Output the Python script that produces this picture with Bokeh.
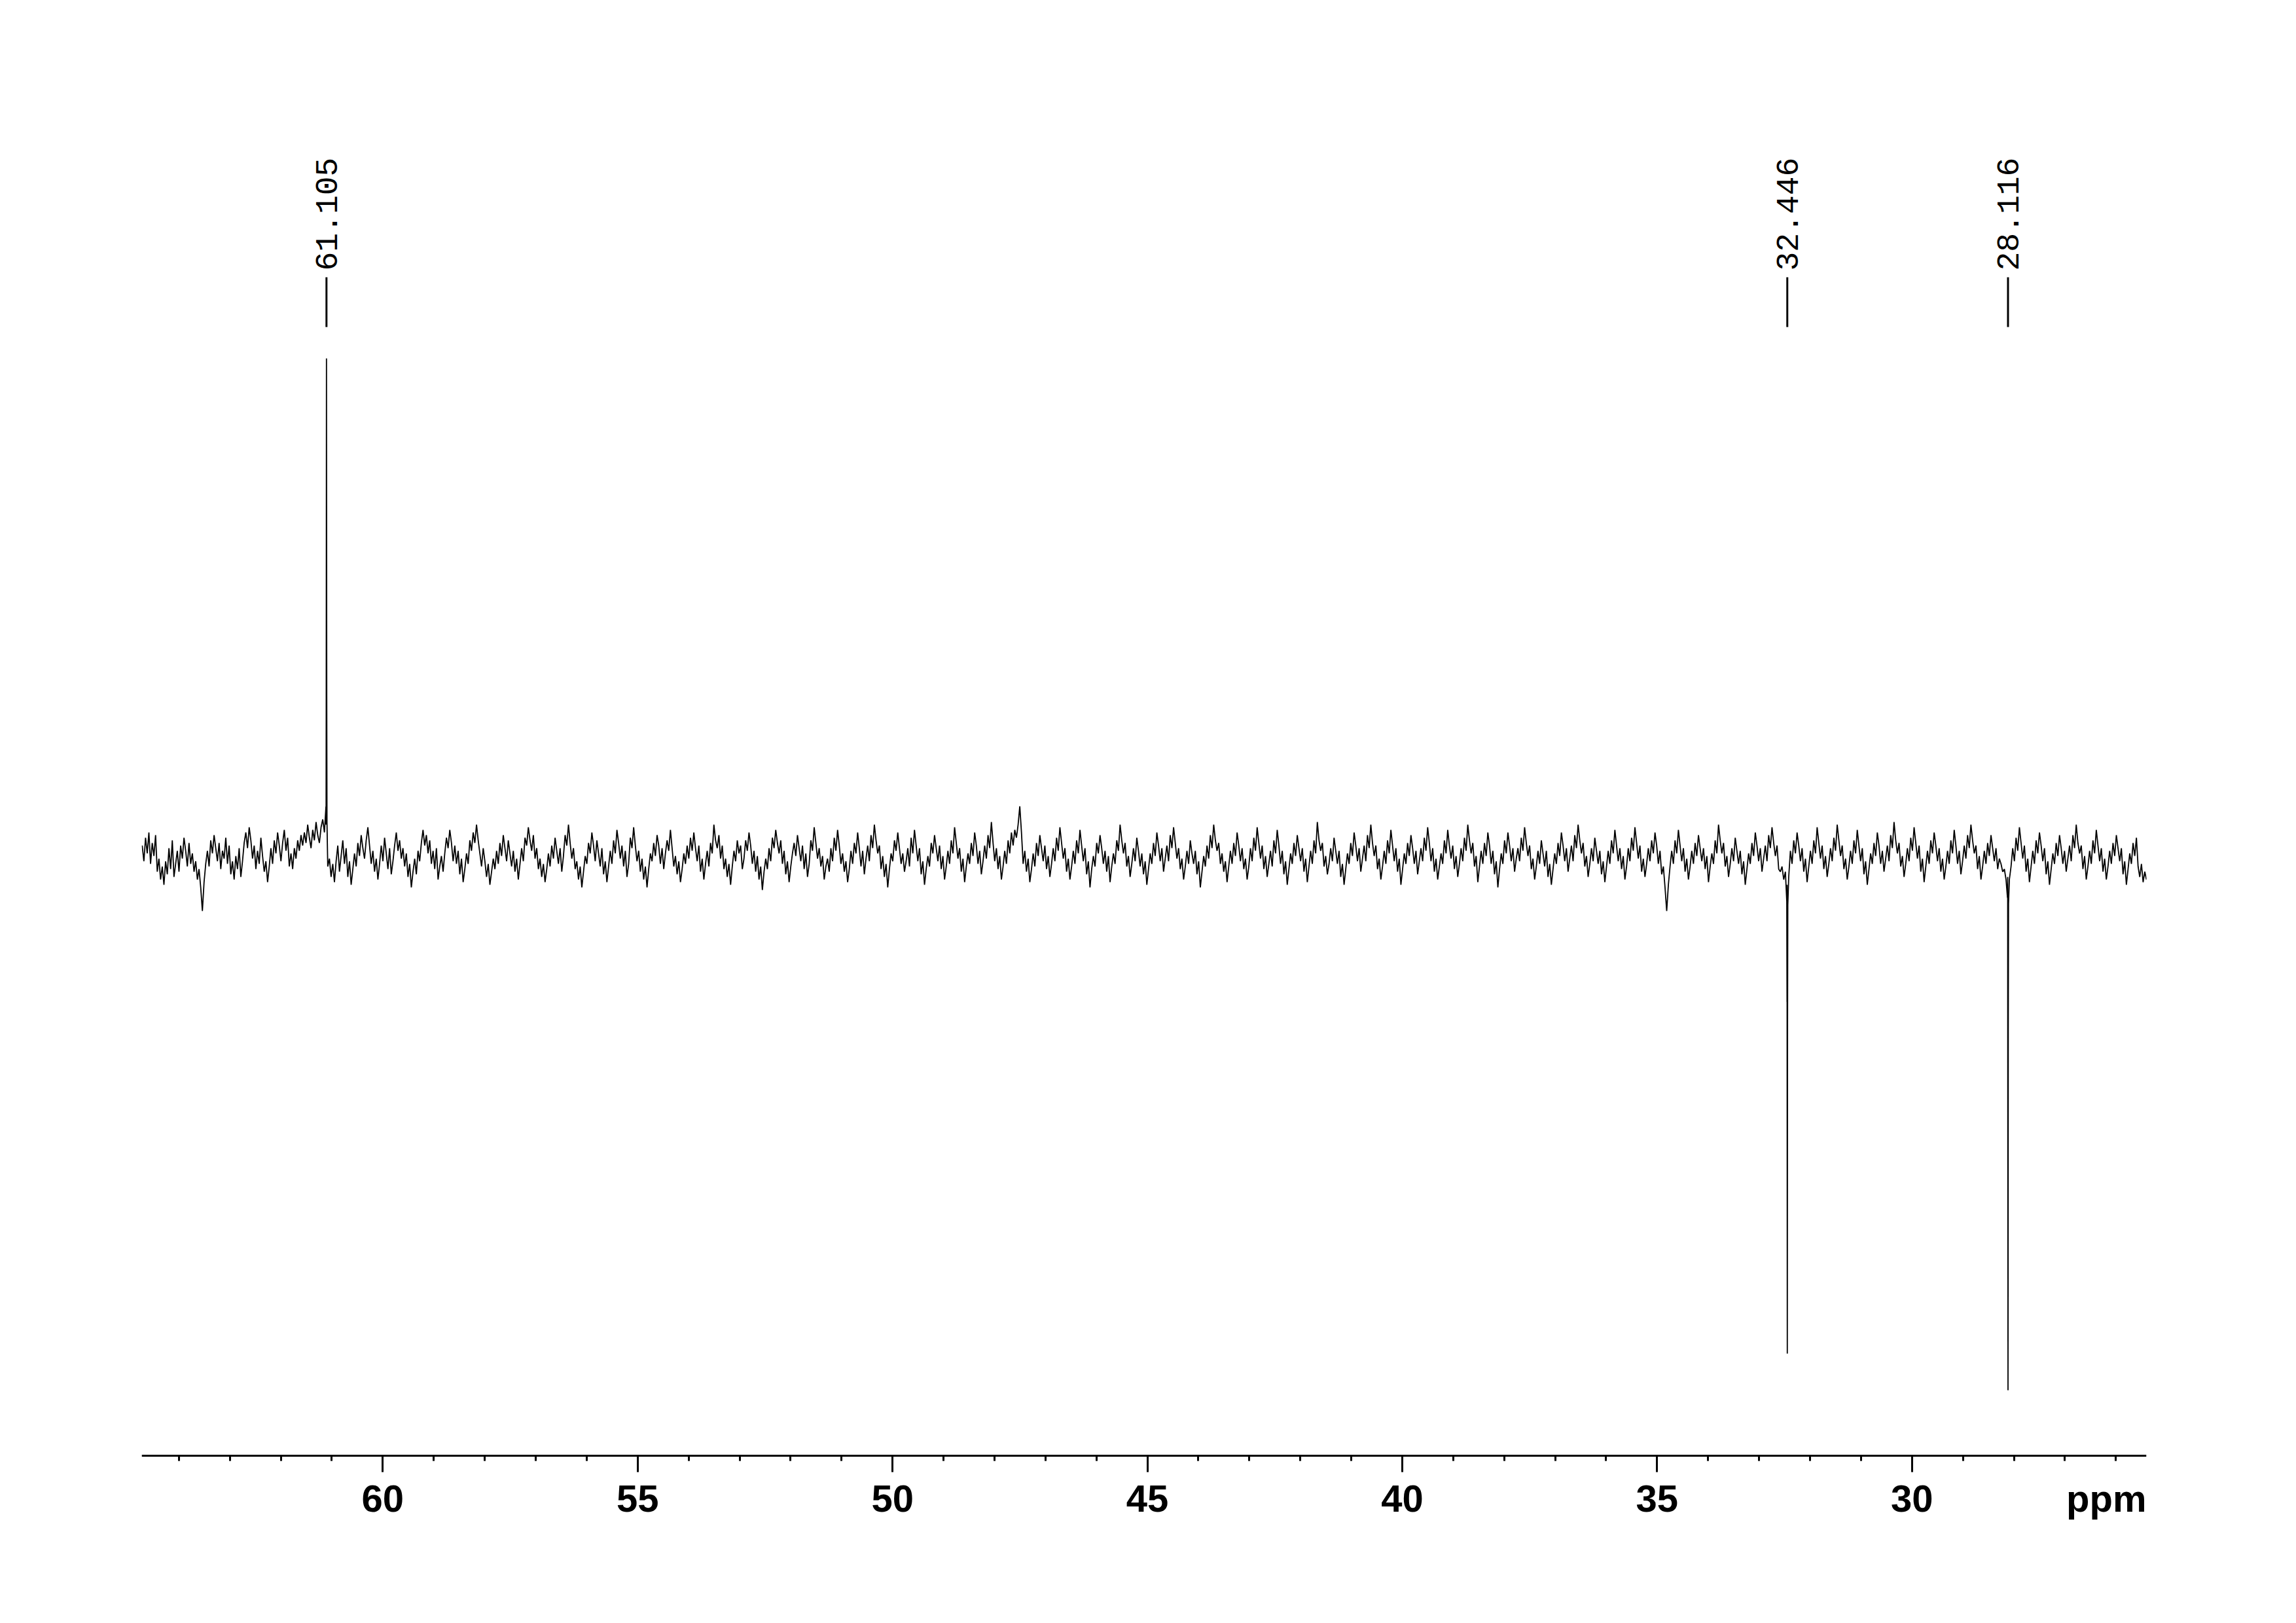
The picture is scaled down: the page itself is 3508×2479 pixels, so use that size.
import numpy as np
from bokeh.plotting import figure
from bokeh.models import Range1d, SingleIntervalTicker
from bokeh.embed import file_html
from bokeh.resources import INLINE
from bokeh.core.properties import value

# ---- data -------------------------------------------------------------
ppm_start = 64.72
ppm_end = 25.40

# baseline noise (intensity units), read left (64.7 ppm) to right (25.4 ppm)
noise = [
    4, -2, 7, 1, 9, -3, 5, 0, 8, -6, -1, -9, -4, -11, -2, -7, 3, -5, 6, -8, -3, 2, -6, 4, -1, 7, 2, -4, 5, -3,
    1, -6, -2, -9, -5, -12, -21, -10, -3, 2, -4, 6, 1, 8, 3, -2, 5, -5, 2, -1, 7, -3, 4, -7, -2, -9, 0, -5, 3, -8,
    -2, 5, 9, 3, 11, 6, -1, 4, -5, 2, -3, 7, 0, -6, -2, -10, -4, 3, -3, 6, 1, 9, 4, -2, 5, 10, 2, 7, -4, 1,
    -5, 3, -1, 6, 2, 8, 4, 9, 5, 12, 7, 3, 10, 6, 13, 8, 5, 11, 14, 9, 12, -4, -1, -8, -3, -10, -2, 4, -6, 0,
    6, -3, 3, -8, -2, -11, -5, 1, -4, 5, 0, 8, 3, -1, 6, 11, 4, -3, 2, -6, -1, -9, -3, 4, -2, 7, 1, -5, 3, -7,
    -2, 4, 9, 2, 6, -1, 3, -4, 1, -8, -3, -12, -6, -1, -7, 2, -2, 5, 10, 4, 8, 1, 6, -3, 2, -5, 3, -9, -4, 0,
    -6, 1, 7, 3, 10, 5, -2, 4, -3, 2, -7, -1, -10, -5, 1, -3, 6, 2, 9, 5, 12, 6, 1, -4, 3, -2, -8, -3, -11, -6,
    -1, -5, 2, -3, 5, 0, 8, 3, -2, 6, 1, -4, 2, -6, -1, -9, -3, 3, -2, 7, 4, 11, 6, 2, 8, -1, 3, -5, -1, -8,
    -3, -10, -5, 1, -4, 4, -1, 7, 2, -3, 3, -6, 0, 8, 4, 12, 5, -1, 3, -5, -2, -9, -4, -12, -6, 0, -3, 5, 1, 9,
    4, -2, 6, 1, -4, 3, -7, -2, -10, -4, 2, -3, 6, 1, 10, 5, -1, 4, -4, 2, -8, -3, 7, 3, 11, 4, -2, 2, -6, -1,
    -9, -4, -12, -5, 1, -2, 5, 0, 8, 4, -3, 3, -5, 1, 6, 2, 10, 3, -4, 0, -7, -2, -10, -5, 1, -3, 4, -1, 7, 2,
    9, 3, -2, 4, -6, -1, -9, -3, 2, -4, 5, 1, 12, 6, 3, 8, -1, 4, -5, -1, -8, -3, -11, -4, 2, -2, 6, 1, 4, -5,
    -1, 6, 2, 9, 4, -3, 2, -6, 0, -9, -4, -13, -6, -1, -5, 3, -2, 7, 3, 10, 5, 1, 6, -3, 2, -7, -2, -10, -4, 1,
    5, 0, 8, 3, -2, 4, -5, 1, -8, -3, 6, 2, 11, 5, -1, 3, -4, 0, -9, -4, -1, -6, 3, -2, 7, 2, 10, 4, -3, 1,
    -6, -2, -10, -5, 2, -3, 5, 1, 9, 3, -4, 2, -7, -1, 4, -2, 8, 3, 12, 6, 1, 4, -5, 0, -8, -3, -12, -5, 1, -2,
    6, 2, 9, 3, -3, 1, -6, -2, 3, -4, 7, 1, 10, 4, -2, 3, -7, -2, -11, -5, 0, -4, 5, 1, 8, 3, -2, 4, -5, 0,
    -9, -4, 2, -3, 6, 1, 11, 5, -1, 3, -6, -1, -10, -4, 1, -3, 5, 0, 9, 4, -3, 2, -7, -2, 4, -1, 8, 3, 13, 5,
    -2, 3, -5, 0, -9, -4, 2, -3, 6, 1, 9, 4, 10, 7, 12, 19, 9, -3, 2, -6, -1, -10, -5, 1, -4, 5, 0, 8, 3, -2,
    4, -5, 0, -8, -3, 3, -2, 7, 2, 11, 5, -1, 3, -6, -1, -9, -4, 2, -3, 6, 1, 10, 4, -2, 3, -7, -2, -12, -5, 0,
    -4, 5, 1, 8, 3, -3, 2, -6, 0, -10, -4, 1, -3, 6, 2, 12, 6, 1, 5, -4, 0, -8, -3, 3, -2, 7, 2, -4, 1, -7,
    -2, -11, -5, 1, -3, 5, 0, 9, 4, -2, 3, -6, -1, 4, -2, 8, 3, 11, 5, -1, 3, -5, -1, -9, -4, 2, -3, 6, 1, -3,
    2, -7, -2, -12, -6, 0, -4, 4, -1, 8, 3, 12, 6, 2, 5, -3, 1, -6, -2, -10, -4, 2, -3, 5, 0, 9, 4, -2, 3, -5,
    -1, -9, -4, 3, -2, 7, 2, 11, 5, -1, 4, -5, 0, -8, -3, 2, -4, 6, 1, 10, 4, -3, 2, -7, -2, -11, -5, 1, -3, 5,
    0, 8, 3, -2, 3, -6, -1, -10, -4, 2, -3, 6, 1, 13, 6, 2, 5, -4, 0, -7, -3, 3, -2, 7, 2, -3, 2, -8, -3, -11,
    -5, 1, -3, 5, 0, 9, 4, -2, 3, -6, -1, 4, -2, 8, 3, 12, 5, 0, 4, -5, -1, -9, -4, 2, -3, 6, 1, 10, 4, -2,
    3, -6, -1, -11, -5, 1, -3, 5, 0, 8, 3, -3, 2, -7, -2, 3, -2, 7, 2, 11, 5, -2, 3, -6, -1, -9, -4, 1, -3, 6,
    1, 10, 4, -1, 4, -5, 0, -8, -3, 3, -2, 7, 2, 12, 6, 1, 5, -4, 0, -10, -4, 2, -3, 5, 0, 9, 4, -3, 2, -7,
    -2, -12, -5, 1, -3, 6, 1, 9, 4, -2, 3, -6, -1, 3, -2, 7, 2, 11, 5, 0, 4, -5, -1, -9, -4, 2, -3, 6, 1, -4,
    2, -8, -3, -11, -5, 1, -3, 5, 0, 9, 4, -2, 3, -6, -1, 4, -2, 8, 3, 12, 6, 1, 5, -4, 0, -8, -3, 3, -2, 7,
    2, -3, 2, -7, -2, -10, -4, 2, -3, 6, 1, 10, 4, -2, 3, -5, 0, -9, -4, 3, -2, 7, 2, 11, 5, -1, 4, -6, -1, -8,
    -3, 3, -2, 6, 1, 9, 4, -3, 2, -7, -4, -12, -21, -11, -4, 2, -3, 6, 1, 10, 4, -2, 3, -6, -1, -9, -4, 2, -3, 5,
    0, 8, 3, -2, 3, -5, 0, -10, -4, 1, -3, 6, 1, 12, 6, 1, 5, -4, 0, -8, -3, 3, -2, 7, 2, -3, 2, -7, -2, -11,
    -5, 1, -3, 5, 0, 9, 4, -2, 3, -6, -1, 4, -2, 8, 3, 11, 5, 0, 4, -5, -6, -4, -9, -6, -11, -8, 2, -3, 6, 1,
    9, 4, -2, 3, -6, -1, -10, -4, 2, -3, 6, 1, 11, 5, -1, 4, -5, 0, -8, -3, 3, -2, 7, 2, 12, 6, 0, 4, -5, -1,
    -9, -4, 2, -3, 6, 1, 10, 4, -2, 3, -7, -2, -11, -5, 1, -3, 5, 0, 9, 4, -3, 2, -6, -1, 4, -2, 8, 3, 13, 6,
    1, 5, -4, 0, -8, -3, 3, -2, 7, 2, 11, 5, -1, 4, -6, -1, -10, -4, 2, -3, 6, 1, 9, 4, -2, 3, -6, -1, -9, -4,
    2, -3, 6, 1, 10, 4, -3, 2, -7, -2, 4, -1, 8, 3, 12, 6, 1, 4, -5, 0, -9, -4, 2, -3, 5, 0, 8, 3, -2, 3,
    -5, -1, -3, -6, -5, -9, -8, -9, -4, 3, -2, 7, 2, 11, 5, -1, 4, -6, -1, -10, -4, 2, -3, 6, 1, 9, 4, -2, 3, -7,
    -2, -11, -5, 1, -3, 5, 0, 8, 3, -3, 2, -6, -1, 4, -2, 8, 3, 12, 5, 1, 4, -5, 0, -9, -4, 2, -3, 6, 1, 10,
    4, -2, 3, -6, -1, -9, -4, 2, -3, 5, 0, 8, 3, -2, 3, -7, -2, -11, -5, 1, -3, 5, 0, 7, -4, -8, -3, -10, -6, -9,
]

peak_ppm = [61.105, 32.446, 28.116]
peak_int = [190, -190, -204]
peak_labels = ["61.105", "32.446", "28.116"]

x_start = 64.73
x_end = 25.40
major_interval = 5
axis_title = "ppm"

# ---- build spectrum ---------------------------------------------------
x = np.linspace(ppm_start, ppm_end, len(noise))
y = np.array(noise, dtype=float)
xs_asc = x[::-1]
ys_asc = y[::-1]
px, py = [], []
shape = [(-0.010, 0.05), (-0.005, 0.3), (0.0, 1.0), (0.005, 0.25), (0.010, 0.04)]
for c, h in zip(peak_ppm, peak_int):
    for dx, f in shape:
        b = np.interp(c + dx, xs_asc, ys_asc)
        px.append(c + dx)
        py.append(f * h + (1 - f) * b)
allx = np.concatenate([x, px])
ally = np.concatenate([y, py])
order = np.argsort(-allx)
allx = allx[order]
ally = ally[order]

# ---- figure -------------------------------------------------------------
y_top = 312.25
y_bottom = -258.25
axis_y = -229

p = figure(frame_width=3063, frame_height=2282,
           x_range=Range1d(x_start, x_end), y_range=Range1d(y_bottom, y_top),
           output_backend="svg", toolbar_location=None,
           min_border_left=216, min_border_right=221,
           min_border_top=58, min_border_bottom=100)
p.background_fill_color = "white"
p.border_fill_color = "white"
p.outline_line_color = None
p.grid.visible = False
p.yaxis.visible = False

p.line(allx, ally, line_color="black", line_width=1.8)

# peak labels
lab_y0 = 202
lab_y1 = 221
lab_text_y = 223.5
p.segment(x0=peak_ppm, y0=[lab_y0] * len(peak_ppm), x1=peak_ppm, y1=[lab_y1] * len(peak_ppm),
          line_color="black", line_width=3)
p.text(x=peak_ppm, y=[lab_text_y] * len(peak_ppm), text=peak_labels, angle=np.pi / 2,
       text_align="left", text_baseline="middle",
       text_font=value("Liberation Mono"), text_font_size="48px", text_color="black")

# x axis
ax = p.xaxis[0]
ax.fixed_location = axis_y
ax.ticker = SingleIntervalTicker(interval=major_interval, num_minor_ticks=5)
ax.axis_line_width = 3
ax.axis_line_color = "black"
ax.major_tick_in = 0
ax.major_tick_out = 25
ax.minor_tick_in = 0
ax.minor_tick_out = 8
ax.major_tick_line_width = 3
ax.minor_tick_line_width = 3
ax.major_label_text_font = "Liberation Sans"
ax.major_label_text_font_style = "bold"
ax.major_label_text_font_size = "58px"
ax.major_label_text_color = "black"
ax.major_label_standoff = 20

p.text(x=[x_end], y=[-237], text=[axis_title], text_align="right", text_baseline="top",
       text_font=value("Liberation Sans"), text_font_style="bold",
       text_font_size="58px", text_color="black")

open("out.html", "w").write(file_html(p, INLINE))
